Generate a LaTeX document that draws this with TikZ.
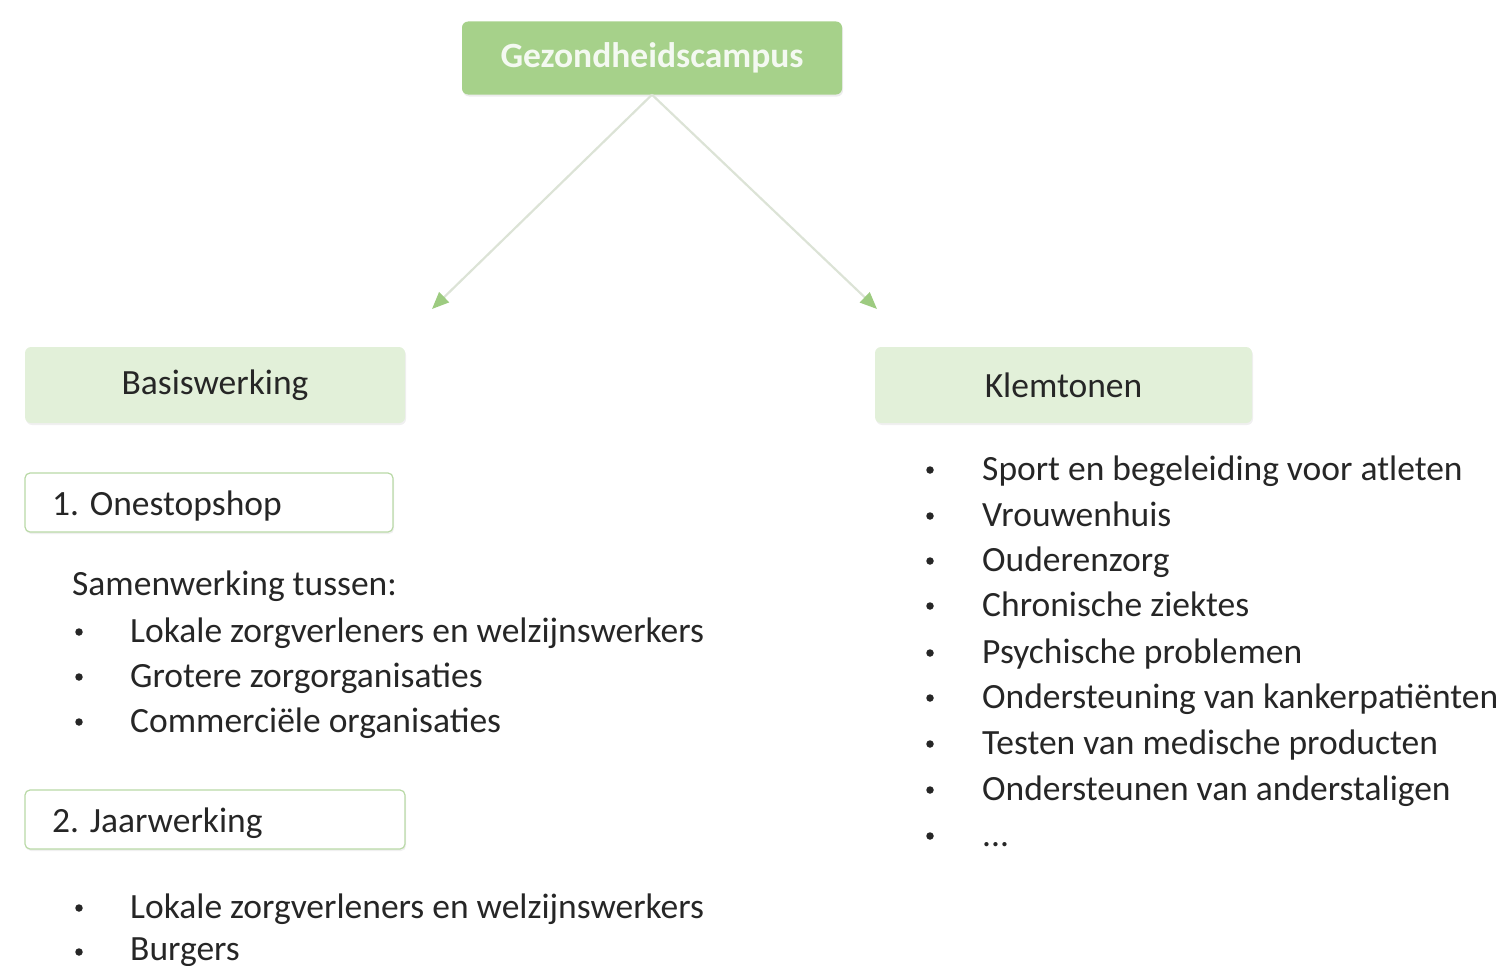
\documentclass[tikz,border=0pt]{standalone}
\usepackage{fontspec}
\setmainfont{Carlito}
\usetikzlibrary{arrows.meta,shadows}
\definecolor{topgreen}{HTML}{A6D18A}
\definecolor{lightgreen}{HTML}{E2F0D9}
\definecolor{boxedge}{HTML}{B9D9A6}
\definecolor{arrowline}{HTML}{DCE3D6}
\definecolor{tipgreen}{HTML}{9DCB80}
\definecolor{txt}{HTML}{262626}
\tikzset{
  head/.style={fill=topgreen, rounded corners=6pt, minimum width=380pt, minimum height=73pt,
    font=\fontsize{35.5}{40}\selectfont\bfseries, text=white!88!topgreen,
    drop shadow={opacity=0.15, shadow xshift=1pt, shadow yshift=-2pt}},
  catbox/.style={fill=lightgreen, rounded corners=6pt, minimum height=76pt,
    font=\fontsize{35.5}{40}\selectfont, text=txt,
    drop shadow={opacity=0.12, shadow xshift=1pt, shadow yshift=-2pt}},
  subbox/.style={draw=boxedge, line width=1.2pt, fill=white, rounded corners=5pt, minimum height=59pt,
    drop shadow={opacity=0.12, shadow xshift=1pt, shadow yshift=-2pt}},
  lbl/.style={anchor=base west, inner sep=0pt, font=\fontsize{35.5}{40}\selectfont, text=txt},
  bul/.style={circle, fill=txt, inner sep=0pt, minimum size=7.5pt},
  conn/.style={draw=arrowline, line width=2.2pt, -{Triangle[length=17pt,width=14pt,color=tipgreen]}},
}
\begin{document}
\begin{tikzpicture}[x=1pt,y=-1pt]
\useasboundingbox (0,0) rectangle (1507,966);
% top
\node[head] (top) at (652,58) {Gezondheidscampus};
% category boxes
\node[catbox, minimum width=380pt] (basis) at (215,385) {Basiswerking};
\node[catbox, minimum width=377pt] (klem) at (1063.5,385) {Klemtonen};
% arrows
\coordinate (ltip) at (432,309);
\coordinate (rtip) at (877,309);
\draw[conn] (top.south) -- (ltip);
\draw[conn] (top.south) -- (rtip);
% sub boxes
\node[subbox, minimum width=368pt] (one) at (209,502.5) {};
\node[lbl] (onet) at (52,515) {1. Onestopshop};
\node[subbox, minimum width=380pt] (two) at (215,819.5) {};
\node[lbl] (twot) at (52,832) {2. Jaarwerking};
% left list 1
\node[lbl] (sam) at (72,595) {Samenwerking tussen:};
\node[bul] (b1) at (79,632) {}; \node[lbl] (l1) at (130,642) {Lokale zorgverleners en welzijnswerkers};
\node[bul] (b2) at (79,677) {}; \node[lbl] (l2) at (130,687) {Grotere zorgorganisaties};
\node[bul] (b3) at (79,722) {}; \node[lbl] (l3) at (130,732) {Commerciële organisaties};
% left list 2
\node[bul] (b4) at (79,908) {}; \node[lbl] (l4) at (130,918) {Lokale zorgverleners en welzijnswerkers};
\node[bul] (b5) at (79,952) {}; \node[lbl] (l5) at (130,960) {Burgers};
% right list
\node[bul] (r1b) at (930,470) {}; \node[lbl] (r1) at (982,480) {Sport en begeleiding voor atleten};
\node[bul] (r2b) at (930,516) {}; \node[lbl] (r2) at (982,526) {Vrouwenhuis};
\node[bul] (r3b) at (930,561) {}; \node[lbl] (r3) at (982,571) {Ouderenzorg};
\node[bul] (r4b) at (930,606) {}; \node[lbl] (r4) at (982,616) {Chronische ziektes};
\node[bul] (r5b) at (930,653) {}; \node[lbl] (r5) at (982,663) {Psychische problemen};
\node[bul] (r6b) at (930,698) {}; \node[lbl] (r6) at (982,708) {Ondersteuning van kankerpatiënten};
\node[bul] (r7b) at (930,744) {}; \node[lbl] (r7) at (982,754) {Testen van medische producten};
\node[bul] (r8b) at (930,790) {}; \node[lbl] (r8) at (982,800) {Ondersteunen van anderstaligen};
\node[bul] (r9b) at (930,836) {}; \node[lbl] (r9) at (982,846) {...};
\end{tikzpicture}
\end{document}
